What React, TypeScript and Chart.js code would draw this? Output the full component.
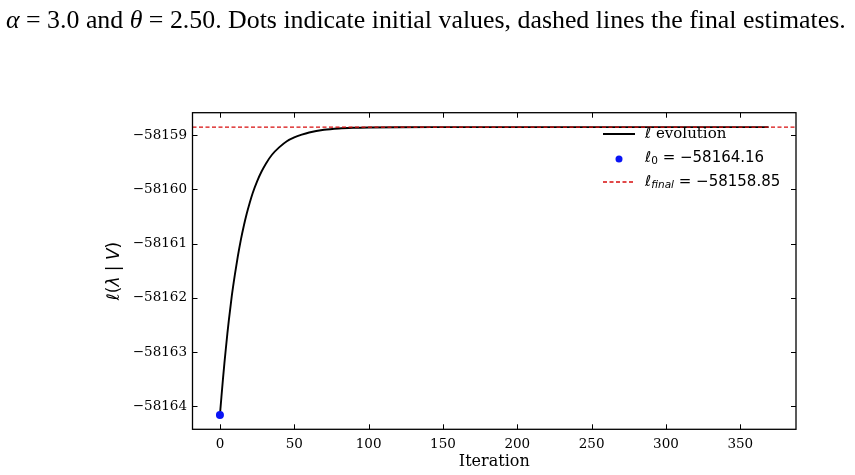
import { useEffect, useRef } from "react";
import { Chart, registerables } from "chart.js";

Chart.register(...registerables);

// Log-likelihood trace of the EM iterations
const iterations = [0, 1, 2, 3, 4, 5, 6, 8, 10, 12, 14, 16, 18, 20, 22, 25, 28, 31, 35, 40, 45, 50, 55, 60, 70, 80, 90, 100, 120, 150, 200, 369];
const logLik = [
  -58164.16, -58163.83, -58163.51, -58163.21, -58162.93, -58162.66, -58162.41, -58161.96,
  -58161.58, -58161.24, -58160.94, -58160.68, -58160.45, -58160.25, -58160.07, -58159.85,
  -58159.67, -58159.52, -58159.36, -58159.22, -58159.11, -58159.04, -58158.99, -58158.95,
  -58158.9, -58158.875, -58158.863, -58158.857, -58158.852, -58158.851, -58158.85, -58158.85,
];
const initialIter = 0;
const initialValue = -58164.16;
const finalValue = -58158.85;

const xTickValues = [0, 50, 100, 150, 200, 250, 300, 350];
const yTickValues = [-58164, -58163, -58162, -58161, -58160, -58159];

const caption = [
  { t: "α", italic: true },
  { t: " = 3.0 and ", italic: false },
  { t: "θ", italic: true },
  { t: " = 2.50. Dots indicate initial values, dashed lines the final estimates.", italic: false },
];

const RED = "#d80c0c";
const BLUE = "#0a14f5";

type Run = { t: string; font: string; dy?: number };

function runsWidth(ctx: CanvasRenderingContext2D, runs: Run[]) {
  let w = 0;
  for (const r of runs) {
    ctx.font = r.font;
    w += ctx.measureText(r.t).width;
  }
  return w;
}

function drawRuns(ctx: CanvasRenderingContext2D, runs: Run[], x: number, y: number) {
  let cx = x;
  for (const r of runs) {
    ctx.font = r.font;
    ctx.fillText(r.t, cx, y + (r.dy || 0));
    cx += ctx.measureText(r.t).width;
  }
  return cx - x;
}

const fmt = (v: number) => (v < 0 ? "\u2212" : "") + Math.abs(v).toString();

const SANS = '"DejaVu Sans"';
const SERIF = '"DejaVu Serif"';

const decorPlugin = {
  id: "decor",
  afterDatasetsDraw(chart: any) {
    const ctx: CanvasRenderingContext2D = chart.ctx;
    const { left, right, top, bottom } = chart.chartArea;
    const xs = chart.scales.x;
    const ys = chart.scales.y;
    ctx.save();
    ctx.strokeStyle = "#000";
    // inward tick marks on all four sides
    ctx.lineWidth = 1;
    const tl = 5;
    ctx.beginPath();
    for (const t of xs.ticks) {
      const px = Math.round(xs.getPixelForValue(t.value)) + 0.5;
      ctx.moveTo(px, bottom);
      ctx.lineTo(px, bottom - tl);
      ctx.moveTo(px, top);
      ctx.lineTo(px, top + tl);
    }
    for (const t of ys.ticks) {
      const py = Math.round(ys.getPixelForValue(t.value)) + 0.5;
      ctx.moveTo(left, py);
      ctx.lineTo(left + tl, py);
      ctx.moveTo(right, py);
      ctx.lineTo(right - tl, py);
    }
    ctx.stroke();
    // frame
    ctx.lineWidth = 1.3;
    ctx.strokeRect(left, top, right - left, bottom - top);
    ctx.restore();
  },
  afterDraw(chart: any) {
    const ctx: CanvasRenderingContext2D = chart.ctx;
    const { left, right, top, bottom } = chart.chartArea;
    ctx.save();
    ctx.fillStyle = "#000";
    ctx.textBaseline = "alphabetic";

    // caption line
    const base = 25;
    const capRuns = (size: number): Run[] =>
      caption.map((c) => ({ t: c.t, font: `${c.italic ? "italic " : ""}${size}px "Liberation Serif"` }));
    const w0 = runsWidth(ctx, capRuns(base));
    const size = (base * 840) / w0;
    drawRuns(ctx, capRuns(size), 6, 28);

    // x axis label
    ctx.textAlign = "center";
    ctx.textBaseline = "middle";
    ctx.font = `16px ${SERIF}`;
    ctx.fillText("Iteration", (left + right) / 2, 462);

    // y axis label (rotated)
    ctx.textAlign = "left";
    const yRuns: Run[] = [
      { t: "ℓ", font: `italic 17px ${SANS}` },
      { t: "(", font: `17px ${SANS}` },
      { t: "λ", font: `italic 17px ${SANS}` },
      { t: " | ", font: `17px ${SANS}` },
      { t: "V", font: `italic 17px ${SANS}` },
      { t: ")", font: `17px ${SANS}` },
    ];
    const yw = runsWidth(ctx, yRuns);
    ctx.save();
    ctx.translate(115, (top + bottom) / 2);
    ctx.rotate(-Math.PI / 2);
    drawRuns(ctx, yRuns, -yw / 2, 0);
    ctx.restore();

    // legend
    const hx0 = 603;
    const hx1 = 635;
    const tx = 645;
    const rows = [134, 158, 182];
    ctx.lineWidth = 2;
    ctx.strokeStyle = "#000";
    ctx.beginPath();
    ctx.moveTo(hx0, rows[0]);
    ctx.lineTo(hx1, rows[0]);
    ctx.stroke();
    ctx.fillStyle = BLUE;
    ctx.beginPath();
    ctx.arc((hx0 + hx1) / 2, rows[1] + 1, 3.5, 0, Math.PI * 2);
    ctx.fill();
    ctx.strokeStyle = RED;
    ctx.lineWidth = 1.4;
    ctx.setLineDash([4, 2.5]);
    ctx.beginPath();
    ctx.moveTo(hx0, rows[2]);
    ctx.lineTo(hx1, rows[2]);
    ctx.stroke();
    ctx.setLineDash([]);

    ctx.fillStyle = "#000";
    ctx.textBaseline = "middle";
    drawRuns(
      ctx,
      [
        { t: "ℓ", font: `italic 15px ${SANS}` },
        { t: " evolution", font: `15px ${SERIF}` },
      ],
      tx,
      rows[0]
    );
    drawRuns(
      ctx,
      [
        { t: "ℓ", font: `italic 15px ${SANS}` },
        { t: "0", font: `10.5px ${SANS}`, dy: 3 },
        { t: " = \u221258164.16", font: `15px ${SANS}` },
      ],
      tx,
      rows[1]
    );
    drawRuns(
      ctx,
      [
        { t: "ℓ", font: `italic 15px ${SANS}` },
        { t: "final", font: `italic 10.5px ${SANS}`, dy: 3 },
        { t: " = \u221258158.85", font: `15px ${SANS}` },
      ],
      tx,
      rows[2]
    );
    ctx.restore();
  },
};

export default function App() {
  const ref = useRef<HTMLCanvasElement | null>(null);

  useEffect(() => {
    const canvas = ref.current;
    if (!canvas) return;

    const xLo = iterations[0];
    const xHi = iterations[iterations.length - 1];
    const xPad = (xHi - xLo) * 0.05;
    const yLo = Math.min(...logLik, initialValue);
    const yHi = Math.max(...logLik, finalValue);
    const yPad = (yHi - yLo) * 0.05;
    const xMin = xLo - xPad;
    const xMax = xHi + xPad;

    const chart = new Chart(canvas, {
      type: "line",
      data: {
        datasets: [
          {
            label: "dot",
            data: [{ x: initialIter, y: initialValue }],
            showLine: false,
            pointRadius: 4,
            pointBackgroundColor: BLUE,
            pointBorderWidth: 0,
            order: 1,
          },
          {
            label: "final",
            data: [
              { x: xMin, y: finalValue },
              { x: xMax, y: finalValue },
            ],
            borderColor: RED,
            borderWidth: 1.4,
            borderDash: [4, 2.5],
            pointRadius: 0,
            order: 2,
          },
          {
            label: "trace",
            data: iterations.map((x, i) => ({ x, y: logLik[i] })),
            borderColor: "#000",
            borderWidth: 1.9,
            pointRadius: 0,
            cubicInterpolationMode: "monotone",
            order: 3,
          },
        ],
      },
      options: {
        responsive: false,
        animation: false,
        events: [],
        clip: false,
        layout: { padding: { left: 0, top: 112.7, right: 59, bottom: 0 } },
        plugins: { legend: { display: false }, tooltip: { enabled: false } },
        scales: {
          x: {
            type: "linear",
            min: xMin,
            max: xMax,
            grid: { display: false, drawTicks: false },
            border: { display: false },
            afterBuildTicks: (s: any) => {
              s.ticks = xTickValues.map((v) => ({ value: v }));
            },
            afterFit: (s: any) => {
              s.height = 475 - 429.3;
            },
            ticks: {
              autoSkip: false,
              maxRotation: 0,
              padding: 7,
              color: "#000",
              font: { family: "DejaVu Serif", size: 13.5 },
              callback: (v: any) => fmt(Number(v)),
            },
          },
          y: {
            type: "linear",
            min: yLo - yPad,
            max: yHi + yPad,
            grid: { display: false, drawTicks: false },
            border: { display: false },
            afterBuildTicks: (s: any) => {
              s.ticks = yTickValues.map((v) => ({ value: v }));
            },
            afterFit: (s: any) => {
              s.width = 192.5;
            },
            ticks: {
              autoSkip: false,
              padding: 5.5,
              color: "#000",
              font: { family: "DejaVu Serif", size: 13.5 },
              callback: (v: any) => fmt(Number(v)),
            },
          },
        },
      },
      plugins: [decorPlugin],
    } as any);

    return () => chart.destroy();
  }, []);

  return (
    <div style={{ position: "fixed", left: 0, top: 0, width: 855, height: 475, background: "#fff" }}>
      <canvas ref={ref} width={855} height={475} style={{ display: "block" }} />
    </div>
  );
}
